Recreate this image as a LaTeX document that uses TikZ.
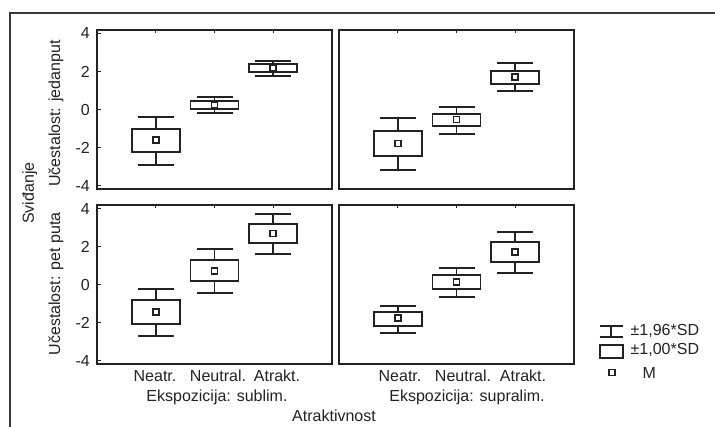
\documentclass[tikz,border=0pt]{standalone}
\usepackage{fontspec}
\setmainfont{Liberation Sans}
\definecolor{ink}{HTML}{222222}
\definecolor{framegray}{HTML}{3A3A3A}
\tikzset{
  plotline/.style={draw=ink, line width=1.9pt},
  meanmk/.style={draw=ink, line width=1.6pt},
  panelframe/.style={draw=ink, line width=2pt},
  outerframe/.style={draw=framegray, line width=2pt},
  tickmk/.style={draw=ink, line width=1pt},
  lbl/.style={font=\fontsize{16}{18}\selectfont, text=ink, inner sep=0pt},
}
\newcommand{\boxplt}[6]{%
  \draw[plotline] (#1-18,#2) -- (#1+18,#2) (#1,#2) -- (#1,#3)
    (#1-24,#3) rectangle (#1+24,#4) (#1,#4) -- (#1,#5)
    (#1-18,#5) -- (#1+18,#5);
  \draw[meanmk] (#1-3,#6-3) rectangle (#1+3,#6+3);}
\begin{document}
\begin{tikzpicture}[x=1pt,y=-1pt]
\useasboundingbox (0,0) rectangle (715,427);
% outer frame (partial)
\coordinate (fbl) at (10,427);
\coordinate (ftl) at (10,13);
\coordinate (ftr) at (715,13);
\draw[outerframe] (fbl) -- (ftl) -- (ftr);
% panels
\draw[panelframe] (97,30) rectangle (332,189);
\draw[panelframe] (339,30) rectangle (574,189);
\draw[panelframe] (97,205) rectangle (332,364);
\draw[panelframe] (339,205) rectangle (574,364);
% top ticks
\foreach \px in {97,339}{
  \foreach \k in {1,2,3}{
    \draw[tickmk] (\px+58.75*\k,30) -- (\px+58.75*\k,33.5);
    \draw[tickmk] (\px+58.75*\k,205) -- (\px+58.75*\k,208.5);
  }}
% left ticks and labels
\foreach \v/\t in {4/4,2/2,0/0,-2/-2,-4/-4}{
  \draw[tickmk] (97,109.5-19*\v) -- (100.5,109.5-19*\v);
  \draw[tickmk] (97,284.5-19*\v) -- (100.5,284.5-19*\v);
  \node[lbl, anchor=east] at (90,109.5-19*\v) {\t};
  \node[lbl, anchor=east] at (90,284.5-19*\v) {\t};
}
% boxes panel 1
\boxplt{155.75}{117}{129}{152}{165.3}{140.3}
\boxplt{214.5}{96.7}{100.7}{109.3}{113.3}{105}
\boxplt{273.25}{61.3}{64.3}{71.7}{75.7}{68}
% panel 2
\boxplt{397.75}{118.3}{131}{156}{170.3}{143.7}
\boxplt{456.5}{107.3}{113.7}{126.3}{134.3}{119.7}
\boxplt{515.25}{63}{71}{84}{91}{77.3}
% panel 3
\boxplt{155.75}{289}{299.7}{323.7}{336}{312.3}
\boxplt{214.5}{249.3}{260.3}{280.7}{293.3}{271.3}
\boxplt{273.25}{214.3}{223.7}{243.3}{254}{233.7}
% panel 4
\boxplt{397.75}{306}{312.3}{325.7}{333.3}{318.3}
\boxplt{456.5}{268.3}{274.7}{289}{296.7}{282}
\boxplt{515.25}{232}{241.7}{262}{272.7}{252.3}
% axis titles
\node[lbl, anchor=base, rotate=90] (yt1) at (60,113.5) {Učestalost: jedanput};
\node[lbl, anchor=base, rotate=90] (yt2) at (60,284) {Učestalost: pet puta};
\node[lbl, anchor=base, rotate=90] (ytm) at (34,193) {Sviđanje};
% category labels
\node[lbl, anchor=base] (c1) at (155,381.5) {Neatr.};
\node[lbl, anchor=base] (c2) at (218,381.5) {Neutral.};
\node[lbl, anchor=base] (c3) at (277,381.5) {Atrakt.};
\node[lbl, anchor=base] (c4) at (400,381.5) {Neatr.};
\node[lbl, anchor=base] (c5) at (463,381.5) {Neutral.};
\node[lbl, anchor=base] (c6) at (523,381.5) {Atrakt.};
\node[lbl, anchor=base] (e1) at (217,402) {Ekspozicija: sublim.};
\node[lbl, anchor=base] (e2) at (467,402) {Ekspozicija: supralim.};
\node[lbl, anchor=base] (xt) at (334,421.5) {Atraktivnost};
% legend
\draw[plotline] (599.5,325.7) -- (622.5,325.7) (611,325.7) -- (611,336.7) (599.5,336.7) -- (622.5,336.7);
\draw[plotline] (600,345) rectangle (623.3,358.3);
\draw[meanmk] (608.8,369.4) rectangle (614.8,375.4);
\node[lbl, anchor=west] (l1) at (630.5,330.7) {±1,96*SD};
\node[lbl, anchor=west] (l2) at (630.5,350) {±1,00*SD};
\node[lbl, anchor=west] (l3) at (642.5,372.7) {M};
\end{tikzpicture}
\end{document}
